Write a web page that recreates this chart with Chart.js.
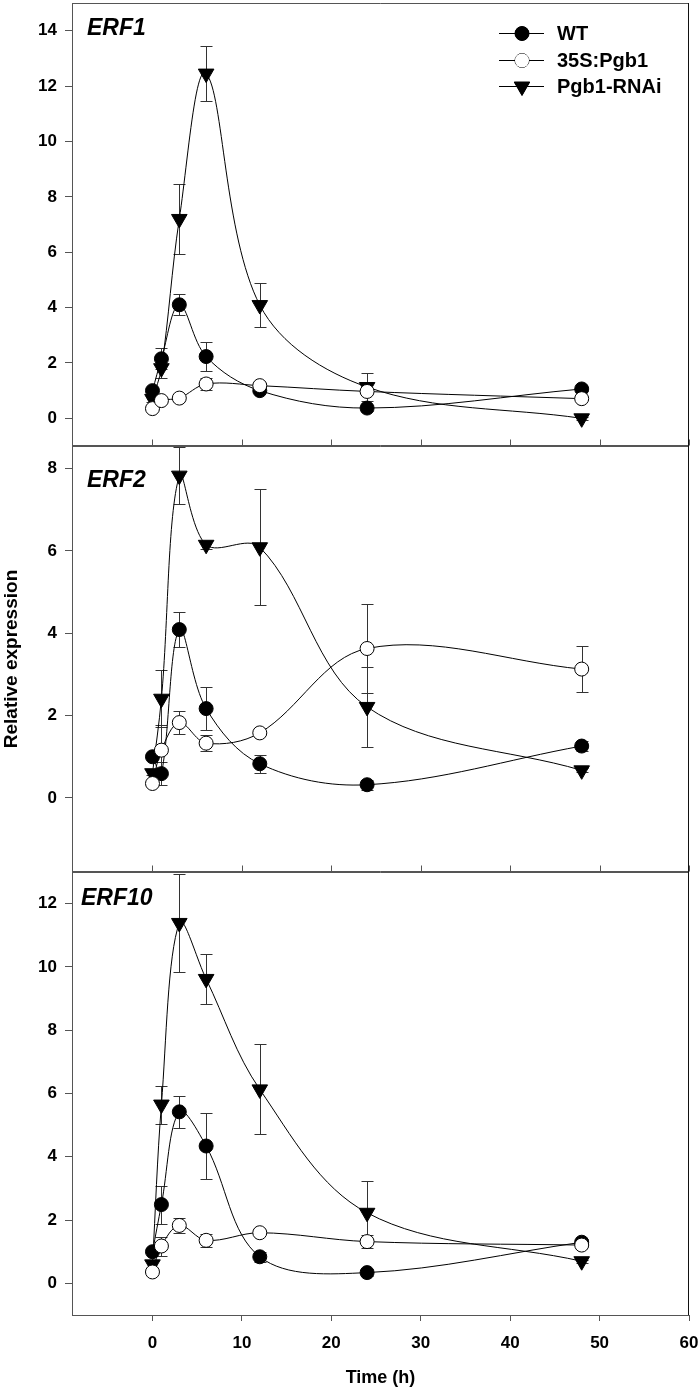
<!DOCTYPE html>
<html>
<head>
<meta charset="utf-8">
<script src="https://cdn.jsdelivr.net/npm/chart.js@4"></script>
<style>
body { margin: 0; background: #fff; }
canvas { position: absolute; left: 0; }
</style>
</head>
<body>
<canvas id="erf1" width="700" height="450" style="top:0px"></canvas>
<canvas id="erf2" width="700" height="440" style="top:440px"></canvas>
<canvas id="erf10" width="700" height="528" style="top:866px"></canvas>
<script>
// sampling times (h)
const times = [0, 1, 3, 6, 12, 24, 48]
const x_ticks = [0, 10, 20, 30, 40, 50, 60]

// ERF1
const erf1_wt = [1.0, 2.15, 4.1, 2.23, 1.0, 0.37, 1.06]
const erf1_wt_err = [0.05, 0.38, 0.38, 0.52, 0.05, 0.1, 0.08]
const erf1_oe = [0.35, 0.64, 0.73, 1.24, 1.18, 0.97, 0.71]
const erf1_oe_err = [0.05, 0.1, 0.08, 0.22, 0.1, 0.1, 0.05]
const erf1_rnai = [0.7, 1.81, 7.2, 12.45, 4.09, 1.13, 0.0]
const erf1_rnai_err = [0.1, 0.35, 1.27, 0.98, 0.81, 0.5, 0.05]
const erf1_y_ticks = [0, 2, 4, 6, 8, 10, 12, 14]

// ERF2
const erf2_wt = [1.0, 0.59, 4.09, 2.17, 0.83, 0.32, 1.26]
const erf2_wt_err = [0.05, 0.28, 0.43, 0.53, 0.22, 0.12, 0.12]
const erf2_oe = [0.35, 1.16, 1.83, 1.33, 1.58, 3.63, 3.13]
const erf2_oe_err = [0.05, 0.6, 0.27, 0.2, 0.05, 1.07, 0.55]
const erf2_rnai = [0.6, 2.41, 7.83, 6.15, 6.09, 2.21, 0.67]
const erf2_rnai_err = [0.05, 0.69, 0.7, 0.1, 1.41, 0.98, 0.05]
const erf2_y_ticks = [0, 2, 4, 6, 8]

// ERF10
const erf10_wt = [1.0, 2.49, 5.42, 4.34, 0.84, 0.34, 1.3]
const erf10_wt_err = [0.05, 0.6, 0.5, 1.05, 0.15, 0.1, 0.1]
const erf10_oe = [0.36, 1.18, 1.83, 1.36, 1.6, 1.32, 1.21]
const erf10_oe_err = [0.05, 0.3, 0.25, 0.2, 0.05, 0.2, 0.05]
const erf10_rnai = [0.6, 5.65, 11.39, 9.62, 6.13, 2.23, 0.7]
const erf10_rnai_err = [0.15, 0.6, 1.54, 0.8, 1.42, 1.0, 0.05]
const erf10_y_ticks = [0, 2, 4, 6, 8, 10, 12]

const font_family = `"Liberation Sans", Arial, Helvetica, sans-serif`
const axis_color = `#555`

const series_style = [
    { label: `WT`, pointStyle: `circle`, radius: 7, fill: `#000`, rotation: 0, order: 2 },
    { label: `35S:Pgb1`, pointStyle: `circle`, radius: 7, fill: `#fff`, rotation: 0, order: 1 },
    { label: `Pgb1-RNAi`, pointStyle: `triangle`, radius: 9, fill: `#000`, rotation: 180, order: 3 }
]

const to_points = (ys) => times.map((t, i) => ({ x: t, y: ys[i] }))

// error bars, frame, inner ticks, panel name and legend
const panel_plugin = {
    id: `panel`,
    beforeDatasetsDraw(chart, args, opts) {
        const { ctx, scales: { x, y } } = chart
        ctx.save()
        ctx.strokeStyle = `#333`
        ctx.lineWidth = 1
        chart.data.datasets.forEach(ds => {
            ds.err.forEach((e, i) => {
                const px = Math.round(x.getPixelForValue(ds.data[i].x)) + 0.5
                const top = Math.round(y.getPixelForValue(ds.data[i].y + e)) + 0.5
                const bot = Math.round(y.getPixelForValue(ds.data[i].y - e)) + 0.5
                ctx.beginPath()
                ctx.moveTo(px, top); ctx.lineTo(px, bot)
                ctx.moveTo(px - 6, top); ctx.lineTo(px + 6, top)
                ctx.moveTo(px - 6, bot); ctx.lineTo(px + 6, bot)
                ctx.stroke()
            })
        })
        ctx.restore()
    },
    afterDraw(chart, args, opts) {
        const { ctx, chartArea: a, scales: { x } } = chart
        ctx.save()
        ctx.lineWidth = 1
        ctx.strokeStyle = axis_color
        const top = Math.round(a.top) + 0.5
        const right = Math.round(a.right) - 0.5
        const bottom = Math.round(a.bottom) - 0.5
        ctx.beginPath()
        ctx.moveTo(a.left, top); ctx.lineTo(right, top)
        if (opts.inner_ticks) {
            ctx.moveTo(a.left, bottom); ctx.lineTo(right, bottom)
            x_ticks.forEach(v => {
                const px = Math.round(x.getPixelForValue(v)) + 0.5
                ctx.moveTo(px, bottom); ctx.lineTo(px, bottom - 6)
            })
        }
        ctx.stroke()
        ctx.strokeStyle = `#111`
        ctx.beginPath()
        ctx.moveTo(right, a.top); ctx.lineTo(right, a.bottom)
        ctx.stroke()

        ctx.fillStyle = `#000`
        ctx.font = `italic bold 23px ${font_family}`
        ctx.textBaseline = `alphabetic`
        ctx.textAlign = `left`
        ctx.fillText(opts.name, opts.name_x, a.top + opts.name_dy)

        if (opts.legend) {
            const rows = [33, 60, 86]
            series_style.forEach((s, i) => {
                const yy = rows[i] + 0.5
                ctx.strokeStyle = `#000`
                ctx.beginPath()
                ctx.moveTo(499, yy); ctx.lineTo(544, yy)
                ctx.stroke()
                ctx.fillStyle = s.fill
                ctx.strokeStyle = `#000`
                Chart.helpers.drawPoint(ctx, { pointStyle: s.pointStyle, radius: s.radius, rotation: s.rotation, borderWidth: 1 }, 522, yy)
                ctx.fill()
                ctx.fillStyle = `#000`
                ctx.font = `bold 20px ${font_family}`
                ctx.textBaseline = `middle`
                ctx.fillText(s.label, 557, yy + 1)
            })
        }
        ctx.restore()
    }
}

function make_panel(id, series, errs, y_min, y_max, y_ticks, panel_opts, is_bottom, y_title) {
    const datasets = series.map((ys, i) => ({
        label: series_style[i].label,
        data: to_points(ys),
        err: errs[i],
        order: series_style[i].order,
        borderColor: `#000`,
        borderWidth: 1,
        tension: 0.35,
        pointStyle: series_style[i].pointStyle,
        pointRotation: series_style[i].rotation,
        pointRadius: series_style[i].radius,
        pointBackgroundColor: series_style[i].fill,
        pointBorderColor: `#000`,
        pointBorderWidth: 1,
        clip: false
    }))

    return new Chart(document.getElementById(id), {
        type: `line`,
        data: { datasets },
        plugins: [panel_plugin],
        options: {
            responsive: false,
            animation: false,
            events: [],
            layout: { padding: panel_opts.padding, autoPadding: false },
            plugins: {
                legend: { display: false },
                tooltip: { enabled: false },
                panel: panel_opts
            },
            scales: {
                x: {
                    type: `linear`,
                    min: -9,
                    max: 60,
                    display: is_bottom,
                    afterBuildTicks: (s) => { s.ticks = x_ticks.map(v => ({ value: v })) },
                    afterFit: (s) => {
                        if (is_bottom) s.height = 79
                        s.paddingLeft = 0
                        s.paddingRight = 0
                    },
                    grid: { drawOnChartArea: false, drawTicks: true, tickLength: 6, color: axis_color },
                    border: { display: true, color: axis_color, width: 1 },
                    ticks: { padding: 12, color: `#000`, font: { family: font_family, size: 17, weight: `bold` } },
                    title: {
                        display: is_bottom,
                        text: `Time (h)`,
                        color: `#000`,
                        padding: { top: 0, bottom: 5 },
                        font: { family: font_family, size: 18, weight: `bold` }
                    }
                },
                y: {
                    type: `linear`,
                    min: y_min,
                    max: y_max,
                    afterBuildTicks: (s) => { s.ticks = y_ticks.map(v => ({ value: v })) },
                    afterFit: (s) => {
                        s.width = 72
                        s.paddingTop = 0
                        s.paddingBottom = 0
                    },
                    grid: { drawOnChartArea: false, drawTicks: true, tickLength: 7, color: axis_color },
                    border: { display: true, color: axis_color, width: 1 },
                    ticks: { padding: 8, color: `#000`, font: { family: font_family, size: 17, weight: `bold` } },
                    title: {
                        display: !!y_title,
                        text: y_title || ``,
                        color: `#000`,
                        padding: { top: 0, bottom: 0 },
                        font: { family: font_family, size: 19, weight: `bold` }
                    }
                }
            }
        }
    })
}

make_panel(`erf1`,
    [erf1_wt, erf1_oe, erf1_rnai],
    [erf1_wt_err, erf1_oe_err, erf1_rnai_err],
    -1, 15, erf1_y_ticks,
    { padding: { top: 3, bottom: 4, right: 11, left: 0 }, inner_ticks: true, name: `ERF1`, name_x: 87, name_dy: 32, legend: true },
    false, null)

make_panel(`erf2`,
    [erf2_wt, erf2_oe, erf2_rnai],
    [erf2_wt_err, erf2_oe_err, erf2_rnai_err],
    -1.8, 8.55, erf2_y_ticks,
    { padding: { top: 6, bottom: 8, right: 11, left: 0 }, inner_ticks: true, name: `ERF2`, name_x: 87, name_dy: 41, legend: false },
    false, `Relative expression`)

make_panel(`erf10`,
    [erf10_wt, erf10_oe, erf10_rnai],
    [erf10_wt_err, erf10_oe_err, erf10_rnai_err],
    -1, 13, erf10_y_ticks,
    { padding: { top: 6, bottom: 0, right: 11, left: 0 }, inner_ticks: false, name: `ERF10`, name_x: 81, name_dy: 33, legend: false },
    true, null)
</script>
</body>
</html>
